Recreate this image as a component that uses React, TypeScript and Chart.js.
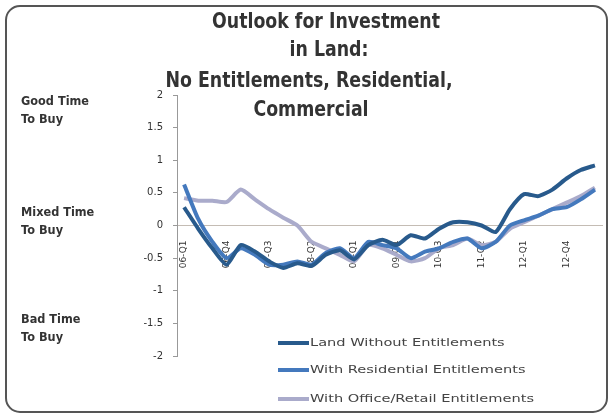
import React, { useEffect, useRef } from "react";
import { Chart, registerables } from "chart.js";

Chart.register(...registerables);

const categories = [
  "06-Q1", "06-Q2", "06-Q3", "06-Q4", "07-Q1", "07-Q2", "07-Q3", "07-Q4",
  "08-Q1", "08-Q2", "08-Q3", "08-Q4", "09-Q1", "09-Q2", "09-Q3", "09-Q4",
  "10-Q1", "10-Q2", "10-Q3", "10-Q4", "11-Q1", "11-Q2", "11-Q3", "11-Q4",
  "12-Q1", "12-Q2", "12-Q3", "12-Q4", "13-Q1", "13-Q2",
];

const landWithout = [
  0.28, -0.05, -0.35, -0.6, -0.3, -0.4, -0.55, -0.65,
  -0.58, -0.62, -0.45, -0.38, -0.52, -0.3, -0.22, -0.3,
  -0.15, -0.2, -0.05, 0.05, 0.05, 0.0, -0.1, 0.25,
  0.48, 0.45, 0.55, 0.72, 0.85, 0.92,
];

const withResidential = [
  0.63, 0.1, -0.25, -0.5, -0.35, -0.45, -0.6, -0.6,
  -0.55, -0.6, -0.42, -0.35, -0.5, -0.25, -0.3, -0.35,
  -0.5, -0.4, -0.35, -0.25, -0.2, -0.35, -0.25, 0.0,
  0.08, 0.15, 0.25, 0.28, 0.4, 0.55,
];

const withOfficeRetail = [
  0.42, 0.38, 0.38, 0.36, 0.55, 0.4, 0.25, 0.12,
  0.0, -0.25, -0.35, -0.45, -0.55, -0.3, -0.35, -0.45,
  -0.55, -0.5, -0.35, -0.3, -0.2, -0.3, -0.25, -0.05,
  0.05, 0.15, 0.25, 0.35, 0.45, 0.58,
];

const seriesNames = [
  "Land Without Entitlements",
  "With Residential Entitlements",
  "With Office/Retail Entitlements",
];

const seriesColors = ["#285A8C", "#4479BD", "#AAABCB"];

const titleLines = [
  "Outlook for Investment",
  "in Land:",
  "No Entitlements, Residential,",
  "Commercial",
];

const sideLabels = [
  ["Good Time", "To Buy"],
  ["Mixed Time", "To Buy"],
  ["Bad Time", "To Buy"],
];
const sideLabelValues = [1.75, 0.05, -1.58];

const decorPlugin = {
  id: "decor",
  afterDraw(chart: any) {
    const ctx = chart.ctx as CanvasRenderingContext2D;
    const yScale = chart.scales.y;
    ctx.save();

    // frame
    ctx.strokeStyle = "#555";
    ctx.lineWidth = 2;
    ctx.beginPath();
    (ctx as any).roundRect(6, 6, 601, 406, 14);
    ctx.stroke();

    // title
    ctx.fillStyle = "#333";
    ctx.textAlign = "center";
    ctx.textBaseline = "middle";
    ctx.font = "bold 21px 'DejaVu Sans'";
    const titleY = [23, 51, 82, 111];
    const titleX = [326, 329, 309, 311];
    const sx = 287 / ctx.measureText(titleLines[2]).width;
    titleLines.forEach((t, i) => {
      ctx.save();
      ctx.translate(titleX[i], titleY[i]);
      ctx.scale(sx, 1);
      ctx.fillText(t, 0, 0);
      ctx.restore();
    });

    // side labels
    ctx.font = "bold 12px 'DejaVu Sans'";
    ctx.textAlign = "left";
    const sw = ctx.measureText("Good Time").width;
    const ssx = 68 / sw;
    sideLabels.forEach((lines, i) => {
      const cy = yScale.getPixelForValue(sideLabelValues[i]);
      lines.forEach((t, j) => {
        ctx.save();
        ctx.translate(21, cy - 9 + j * 18);
        ctx.scale(ssx, 1);
        ctx.fillText(t, 0, 0);
        ctx.restore();
      });
    });

    // legend
    const rowY = [343, 370, 399];
    ctx.font = "11px 'DejaVu Sans'";
    const lw = ctx.measureText(seriesNames[2]).width;
    const lsx = 224 / lw;
    seriesNames.forEach((name, i) => {
      ctx.strokeStyle = seriesColors[i];
      ctx.lineWidth = 4;
      ctx.beginPath();
      ctx.moveTo(278, rowY[i]);
      ctx.lineTo(309, rowY[i]);
      ctx.stroke();
      ctx.fillStyle = "#444";
      ctx.save();
      ctx.translate(310, rowY[i]);
      ctx.scale(lsx, 1);
      ctx.fillText(name, 0, 0);
      ctx.restore();
    });

    ctx.restore();
  },
};

export default function App() {
  const canvasRef = useRef<HTMLCanvasElement | null>(null);

  useEffect(() => {
    if (!canvasRef.current) return;
    const chart = new Chart(canvasRef.current, {
      type: "line",
      data: {
        labels: categories,
        datasets: [
          {
            label: seriesNames[0],
            data: landWithout,
            borderColor: seriesColors[0],
            borderWidth: 4,
            pointRadius: 0,
            tension: 0.2,
          },
          {
            label: seriesNames[1],
            data: withResidential,
            borderColor: seriesColors[1],
            borderWidth: 4,
            pointRadius: 0,
            tension: 0.2,
          },
          {
            label: seriesNames[2],
            data: withOfficeRetail,
            borderColor: seriesColors[2],
            borderWidth: 4,
            pointRadius: 0,
            tension: 0.2,
          },
        ],
      },
      options: {
        responsive: false,
        animation: false,
        layout: { padding: { top: 95, bottom: 63, right: 11, left: 0 } },
        plugins: {
          legend: { display: false },
          title: { display: false },
          tooltip: { enabled: false },
        },
        scales: {
          x: {
            type: "category",
            position: { y: 0 } as any,
            offset: true,
            z: 1,
            grid: { display: false },
            border: { display: true, color: "#c4bcb4", width: 1 },
            ticks: {
              autoSkip: false,
              maxRotation: 90,
              minRotation: 90,
              padding: 7,
              color: "#333",
              font: { family: "'DejaVu Sans'", size: 9 },
              callback: (_v: any, i: number) => (i % 3 === 0 ? categories[i] : ""),
            },
          },
          y: {
            min: -2,
            max: 2,
            afterFit: (scale: any) => {
              scale.width = 177;
            },
            grid: {
              display: true,
              drawOnChartArea: false,
              drawTicks: true,
              tickLength: 4,
              color: "#999",
            },
            border: { display: true, color: "#999" },
            ticks: {
              stepSize: 0.5,
              padding: 10,
              color: "#333",
              font: { family: "'DejaVu Sans'", size: 10 },
              callback: (v: any) => String(Number(v)),
            },
          },
        },
      },
      plugins: [decorPlugin],
    });
    return () => chart.destroy();
  }, []);

  return (
    <div style={{ position: "fixed", left: 0, top: 0, width: 613, height: 419, background: "#fff" }}>
      <canvas ref={canvasRef} width={613} height={419} />
    </div>
  );
}
